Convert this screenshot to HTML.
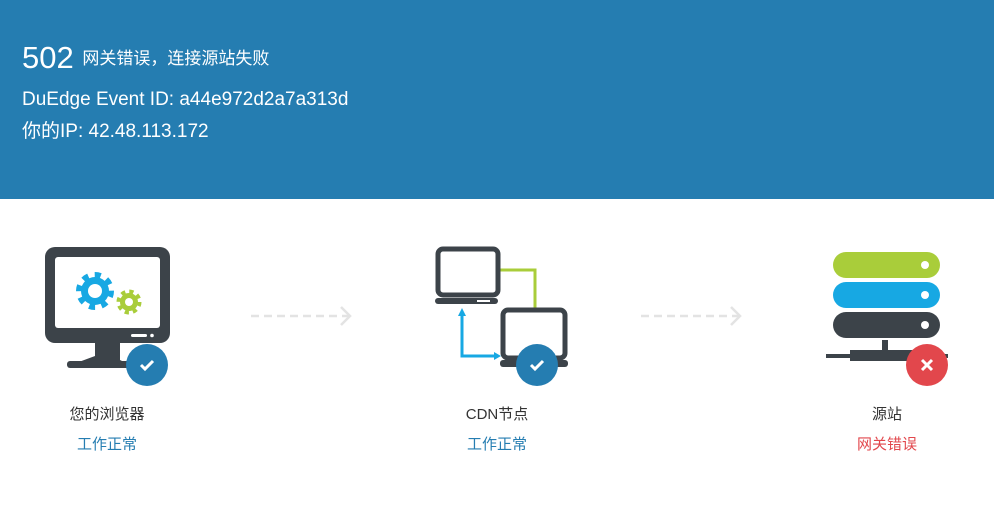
<!DOCTYPE html>
<html><head><meta charset="utf-8"><style>
html,body{margin:0;padding:0;width:994px;height:518px;overflow:hidden;background:#fff;font-family:"Liberation Sans","Noto Sans CJK SC",sans-serif}
.hdr{position:absolute;left:0;top:0;width:994px;height:199px;background:#257db1;color:#fff}
.t{position:absolute;left:22px;white-space:nowrap}
.lab{position:absolute;width:200px;text-align:center;font-size:15px;color:#333}
.st{position:absolute;width:200px;text-align:center;font-size:15px;color:#257db1}
</style></head><body>
<div class="hdr">
<div class="t" style="top:40px;font-size:31px">502 <span style="font-size:17px;vertical-align:4px">网关错误，连接源站失败</span></div>
<div class="t" style="top:89px;font-size:19px">DuEdge Event ID: a44e972d2a7a313d</div>
<div class="t" style="top:116px;font-size:19px">你的IP: 42.48.113.172</div>
</div>
<svg width="994" height="518" style="position:absolute;left:0;top:0">
<rect x="45" y="247" width="125" height="96" rx="10" fill="#3c4349"/>
<rect x="55" y="257" width="105" height="71" rx="3" fill="#fff"/>
<rect x="131" y="334" width="16" height="3" rx="1.5" fill="#fff"/>
<circle cx="152" cy="335.5" r="1.8" fill="#fff"/>
<polygon points="95,343 120,343 120,360 132,366 68,366 95,356" fill="#3c4349"/>
<rect x="67" y="361" width="70" height="7" rx="3" fill="#3c4349"/>
<circle cx="95" cy="291" r="16" fill="none" stroke="#17a8e3" stroke-width="6" stroke-dasharray="6 6.5"/>
<circle cx="95" cy="291" r="14" fill="#17a8e3"/>
<circle cx="95" cy="291" r="7" fill="#fff"/>
<circle cx="129" cy="302" r="10" fill="none" stroke="#a9cd3a" stroke-width="5" stroke-dasharray="4 3.85"/>
<circle cx="129" cy="302" r="9" fill="#a9cd3a"/>
<circle cx="129" cy="302" r="4" fill="#fff"/>
<circle cx="147" cy="365" r="21" fill="#257db1"/>
<path d="M141,365 l4,4 l8,-8" stroke="#fff" stroke-width="3" fill="none"/>
<g stroke="#e3e3e3" stroke-width="2.5" fill="none">
<line x1="251" y1="316" x2="349" y2="316" stroke-dasharray="8 5"/>
<polyline points="341,307 350,316 341,325"/>
<line x1="641" y1="316" x2="739" y2="316" stroke-dasharray="8 5"/>
<polyline points="731,307 740,316 731,325"/>
</g>
<polyline points="497,270 535,270 535,310" stroke="#a9cd3a" stroke-width="3" fill="none"/>
<rect x="438" y="249" width="60" height="46" rx="5" fill="#fff" stroke="#3c4349" stroke-width="5"/>
<rect x="435" y="298" width="63" height="6" rx="3" fill="#3c4349"/>
<rect x="477" y="300" width="13" height="2" fill="#fff"/>
<rect x="503" y="310" width="62" height="48" rx="5" fill="#fff" stroke="#3c4349" stroke-width="5"/>
<rect x="500" y="360" width="68" height="7" rx="3" fill="#3c4349"/>
<g stroke="#17a8e3" stroke-width="3" fill="none"><polyline points="462,313 462,356 497,356"/></g>
<polygon points="462,308 458,316 466,316" fill="#17a8e3"/>
<polygon points="501,356 494,352 494,360" fill="#17a8e3"/>
<circle cx="537" cy="365" r="21" fill="#257db1"/>
<path d="M531,365 l4,4 l8,-8" stroke="#fff" stroke-width="3" fill="none"/>
<rect x="833" y="252" width="107" height="26" rx="13" fill="#a9cd3a"/>
<rect x="833" y="282" width="107" height="26" rx="13" fill="#17a8e3"/>
<rect x="833" y="312" width="107" height="26" rx="13" fill="#3c4349"/>
<circle cx="925" cy="265" r="4" fill="#fff"/>
<circle cx="925" cy="295" r="4" fill="#fff"/>
<circle cx="925" cy="325" r="4" fill="#fff"/>
<rect x="882" y="340" width="6" height="12" fill="#3c4349"/>
<rect x="826" y="354" width="122" height="4" fill="#3c4349"/>
<rect x="850" y="350" width="72" height="11" fill="#3c4349"/>
<circle cx="927" cy="365" r="21" fill="#e2474c"/>
<path d="M922,360 l10,10 M932,360 l-10,10" stroke="#fff" stroke-width="3"/>
</svg>
<div class="lab" style="left:7px;top:403px">您的浏览器</div>
<div class="st" style="left:7px;top:433px">工作正常</div>
<div class="lab" style="left:397px;top:403px">CDN节点</div>
<div class="st" style="left:397px;top:433px">工作正常</div>
<div class="lab" style="left:787px;top:403px">源站</div>
<div class="st" style="left:787px;top:433px;color:#e2474c">网关错误</div>
</body></html>
